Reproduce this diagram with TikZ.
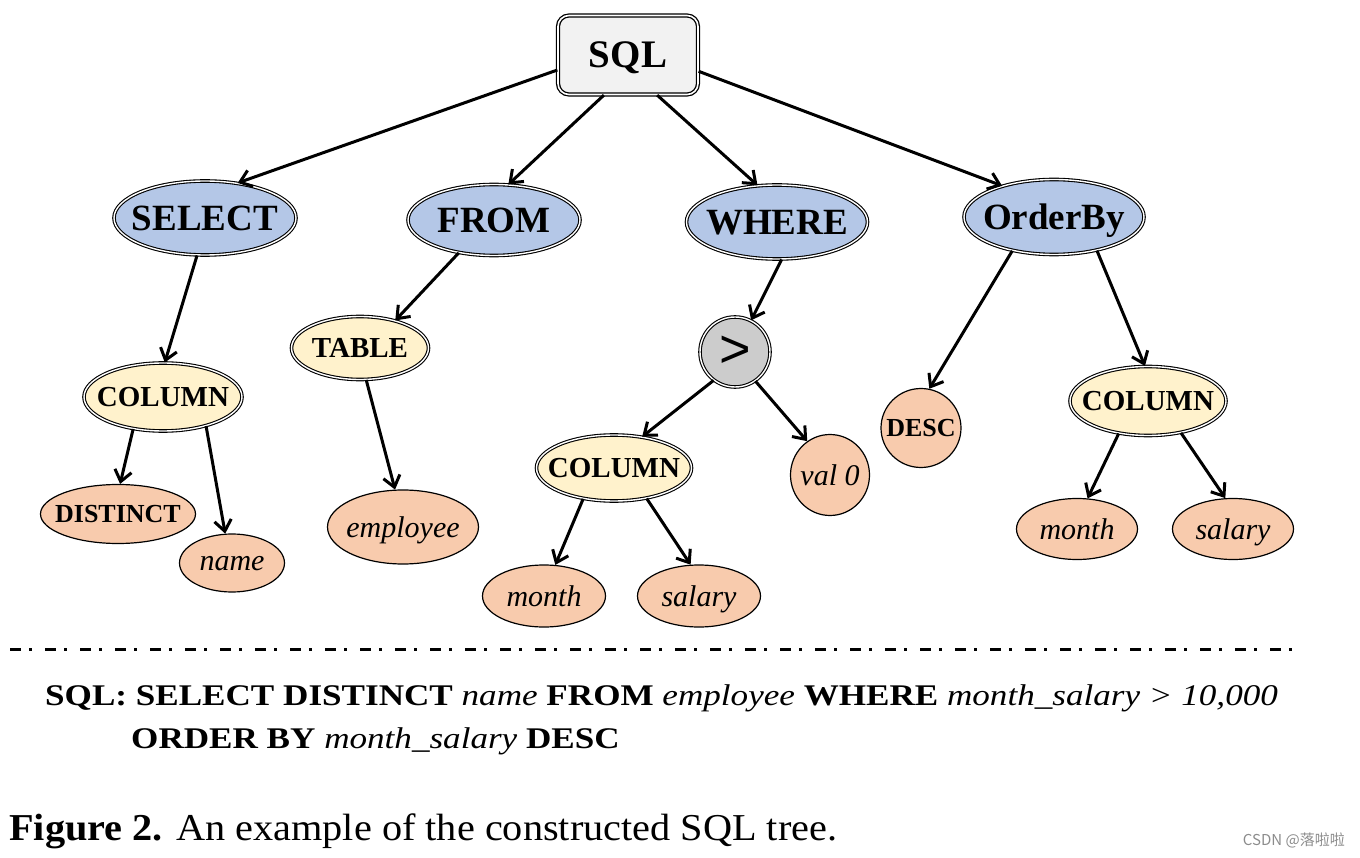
\documentclass[tikz,border=0pt]{standalone}
\usepackage{fontspec}
\usepackage{graphicx}
\setmainfont{Liberation Serif}
\newfontfamily\opfont{Liberation Sans}
\newfontfamily\cjkfont{Noto Sans CJK SC}
\usetikzlibrary{shapes.geometric,arrows.meta,positioning}
\definecolor{rootgray}{HTML}{F2F2F2}
\definecolor{kwblue}{HTML}{B4C7E7}
\definecolor{midyellow}{HTML}{FFF2CC}
\definecolor{leafpeach}{HTML}{F8CBAD}
\definecolor{opgray}{HTML}{CCCCCC}
\newcommand{\nowidth}[1]{\makebox[0pt]{#1}}

\begin{document}
\begin{tikzpicture}[x=1pt,y=-1pt,
      root/.style={draw,rounded corners=11pt,double=white,double distance=1.6pt,line width=1.3pt,
        fill=rootgray,inner sep=0pt,text depth=0pt,font=\fontsize{39}{39}\selectfont\bfseries},
      kw/.style={ellipse,draw,double=white,double distance=1.4pt,line width=1.1pt,
        fill=kwblue,inner sep=0pt,text depth=0pt,font=\fontsize{37}{37}\selectfont\bfseries},
      mid/.style={ellipse,draw,double=white,double distance=1.4pt,line width=1.1pt,
        fill=midyellow,inner sep=0pt,text depth=0pt,font=\fontsize{29}{29}\selectfont\bfseries},
      op/.style={circle,draw,double=white,double distance=1.4pt,line width=1.1pt,
        fill=opgray,inner sep=0pt,text depth=0pt,font=\opfont\fontsize{54}{54}\selectfont},
      leaf/.style={ellipse,draw,line width=1.2pt,fill=leafpeach,inner sep=0pt,text depth=0pt,
        font=\fontsize{30}{30}\selectfont\itshape},
      edge/.style={line width=3pt,-{Straight Barb[length=11pt,width=17pt]}}
    ]
    \useasboundingbox (0,0) rectangle (1360,858);

    % root and first level
    \node[root,minimum width=140pt,minimum height=79pt] (sql) at (628,55) {SQL};
    \node[kw,minimum width=182pt,minimum height=74pt] (select)  at (205,218)  {\nowidth{SELECT}};
    \node[kw,minimum width=172pt,minimum height=71pt] (from)    at (494,220)  {\nowidth{FROM}};
    \node[kw,minimum width=181pt,minimum height=74pt] (where)   at (777,222)  {\nowidth{WHERE}};
    \node[kw,minimum width=180pt,minimum height=75pt] (orderby) at (1054,217) {\nowidth{OrderBy}};

    % inner nodes
    \node[mid,minimum width=158pt,minimum height=68pt] (colsel) at (163,397)  {\nowidth{COLUMN}};
    \node[mid,minimum width=137pt,minimum height=63pt] (table)  at (360,348)  {\nowidth{TABLE}};
    \node[op,minimum size=70pt]                        (gt)     at (735,352)  {\nowidth{>}};
    \node[mid,minimum width=155pt,minimum height=66pt] (colwhr) at (614,468)  {\nowidth{COLUMN}};
    \node[mid,minimum width=156pt,minimum height=69pt] (colord) at (1148,401) {\nowidth{COLUMN}};

    % leaves
    \node[leaf,minimum width=155pt,minimum height=59pt,font=\fontsize{26}{26}\selectfont\bfseries]
      (distinct) at (118,514) {\nowidth{DISTINCT}};
    \node[leaf,minimum width=105pt,minimum height=58pt] (name)     at (232,563)  {\nowidth{name}};
    \node[leaf,minimum width=151pt,minimum height=74pt] (employee) at (403,527)  {\nowidth{employee}};
    \node[leaf,minimum width=79pt,minimum height=81pt]  (val)      at (830,475)  {\nowidth{val 0}};
    \node[leaf,minimum width=123pt,minimum height=62pt] (monthw)   at (544,596)  {\nowidth{month}};
    \node[leaf,minimum width=123pt,minimum height=62pt] (salaryw)  at (699,596)  {\nowidth{salary}};
    \node[leaf,minimum width=80pt,minimum height=79pt,font=\fontsize{26}{26}\selectfont\bfseries]
      (desc) at (921,428) {\nowidth{DESC}};
    \node[leaf,minimum width=121pt,minimum height=61pt] (montho)   at (1077,529) {\nowidth{month}};
    \node[leaf,minimum width=121pt,minimum height=61pt] (salaryo)  at (1233,529) {\nowidth{salary}};

    % edges
    \draw[edge] (sql.192) -- (select.47);
    \draw[edge] (sql.239) -- (from.68);
    \draw[edge] (sql.-54) -- (where.118);
    \draw[edge] (sql.-13) -- (orderby.149);
    \draw[edge] (select.-102) -- (colsel.87);
    \draw[edge] (from.-137) -- (table.38);
    \draw[edge] (where.-83) -- (gt.63);
    \draw[edge] (orderby.-141) -- (desc.78);
    \draw[edge] (orderby.-38) -- (colord.95);
    \draw[edge] (colsel.-133) -- (distinct.86);
    \draw[edge] (colsel.-34) -- (name.103);
    \draw[edge] (table.-79) -- (employee.102);
    \draw[edge] (gt.-127) -- (colwhr.48);
    \draw[edge] (gt.-55) -- (val.124);
    \draw[edge] (colwhr.-135) -- (monthw.70);
    \draw[edge] (colwhr.-43) -- (salaryw.105);
    \draw[edge] (colord.-132) -- (montho.71);
    \draw[edge] (colord.-44) -- (salaryo.104);

    % separator and query text
    \coordinate (sepl) at (10,649);
    \coordinate (sepr) at (1292,649);
    \draw[line width=3pt,dash pattern=on 11pt off 8pt on 3pt off 13pt] (sepl) -- (sepr);

    \node[anchor=base west,inner sep=0pt,font=\fontsize{30}{30}\selectfont] (query1) at (45,705)
      {\scalebox{1.17}[1]{\textbf{SQL: SELECT DISTINCT} \textit{name} \textbf{FROM} \textit{employee} \textbf{WHERE} \textit{month\_salary > 10,000}}};
    \node[anchor=base west,inner sep=0pt,font=\fontsize{30}{30}\selectfont] (query2) at (131,748)
      {\scalebox{1.17}[1]{\textbf{ORDER BY} \textit{month\_salary} \textbf{DESC}}};

    \node[anchor=base west,inner sep=0pt,font=\fontsize{38}{38}\selectfont] (caption) at (9,840)
      {\scalebox{1.06}[1]{\textbf{Figure 2.} An example of the constructed SQL tree.}};
    \node[anchor=base east,inner sep=0pt,text=black!45,font=\cjkfont\fontsize{15}{15}\selectfont]
      (mark) at (1345,845) {CSDN @落啦啦};
  \end{tikzpicture}
\end{document}
